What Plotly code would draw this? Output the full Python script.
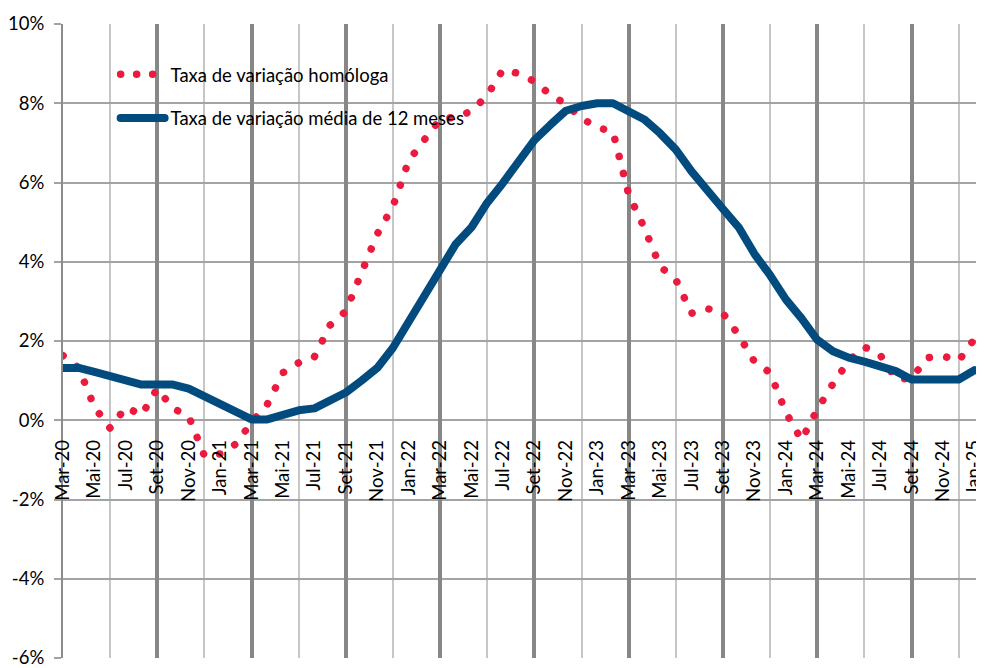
import plotly.graph_objects as go

months = [
    "Mar-20", "Abr-20", "Mai-20", "Jun-20", "Jul-20", "Ago-20", "Set-20", "Out-20", "Nov-20", "Dez-20",
    "Jan-21", "Fev-21", "Mar-21", "Abr-21", "Mai-21", "Jun-21", "Jul-21", "Ago-21", "Set-21", "Out-21", "Nov-21", "Dez-21",
    "Jan-22", "Fev-22", "Mar-22", "Abr-22", "Mai-22", "Jun-22", "Jul-22", "Ago-22", "Set-22", "Out-22", "Nov-22", "Dez-22",
    "Jan-23", "Fev-23", "Mar-23", "Abr-23", "Mai-23", "Jun-23", "Jul-23", "Ago-23", "Set-23", "Out-23", "Nov-23", "Dez-23",
    "Jan-24", "Fev-24", "Mar-24", "Abr-24", "Mai-24", "Jun-24", "Jul-24", "Ago-24", "Set-24", "Out-24", "Nov-24", "Dez-24",
    "Jan-25",
]

homologa = [
    1.63, 1.32, 0.33, -0.20, 0.33, 0.13, 0.80, 0.30, 0.10, -0.90,
    -0.85, -0.60, -0.05, 0.40, 1.20, 1.45, 1.60, 2.40, 2.75, 3.75, 4.70, 5.40,
    6.55, 7.08, 7.60, 7.65, 7.80, 8.20, 8.85, 8.75, 8.55, 8.22, 7.98, 7.62,
    7.39, 7.28, 5.70, 4.85, 3.88, 3.55, 2.70, 2.82, 2.70, 2.15, 1.48, 1.20,
    0.20, -0.50, 0.27, 0.92, 1.50, 1.85, 1.65, 1.05, 1.05, 1.58, 1.62, 1.50,
    2.05,
]

media12 = [
    1.32, 1.32, 1.22, 1.12, 1.00, 0.90, 0.90, 0.90, 0.80, 0.60,
    0.40, 0.20, 0.02, 0.02, 0.15, 0.25, 0.30, 0.50, 0.70, 1.00, 1.32, 1.83,
    2.49, 3.12, 3.87, 4.45, 4.87, 5.49, 5.99, 6.53, 7.07, 7.45, 7.81, 7.93,
    8.00, 8.00, 7.80, 7.59, 7.24, 6.83, 6.28, 5.78, 5.33, 4.87, 4.20, 3.66,
    3.05, 2.57, 2.03, 1.74, 1.58, 1.48, 1.37, 1.24, 1.03, 1.03, 1.03, 1.03,
    1.26,
]

y_ticks = [-6, -4, -2, 0, 2, 4, 6, 8, 10]
y_ticktext = [f"{v}%" for v in y_ticks]

name_homologa = "Taxa de variação homóloga"
name_media = "Taxa de variação média de 12 meses"

RED = "#EB1B3F"
BLUE = "#024B7F"
FONT = "Lato"

idx = list(range(len(months)))
label_idx = idx[::2]
label_txt = months[::2]
thin_idx = [i for i, m in zip(idx, months) if m[:3] in ("Jun", "Dez")]
thick_idx = [i for i, m in zip(idx, months) if m[:3] in ("Mar", "Set") and i > 0]
x_range = [0, 58.23]

fig = go.Figure()
fig.add_trace(go.Scatter(
    x=idx, y=homologa, mode="lines", name=name_homologa,
    line=dict(color=RED, width=7.5, dash="0.1px,17.5px"),
    legend="legend", hoverinfo="skip", xaxis="x", yaxis="y",
))
fig.add_trace(go.Scatter(
    x=idx, y=media12, mode="lines", name=name_media,
    line=dict(color=BLUE, width=8),
    legend="legend2", hoverinfo="skip", xaxis="x2", yaxis="y",
))

legend_font = dict(family=FONT, size=18.5, color="black")
legend_x = (114 - 62) / 922

# the page body has an 8px margin: the figure is drawn 8px in from the window's left/top
fig.update_layout(
    width=976, height=660,
    margin=dict(l=54, r=0, t=16, b=7),
    paper_bgcolor="white", plot_bgcolor="white",
    font=dict(family=FONT, size=18, color="black"),
    showlegend=True,
    xaxis=dict(
        range=x_range, tickmode="array", tickvals=label_idx, ticktext=label_txt,
        tickangle=-90, showgrid=False, zeroline=False, showline=False,
        anchor="free", position=0.375, ticks="", ticklabelstandoff=15,
        ticklabeloverflow="allow",
        tickfont=dict(family=FONT, size=18.5, color="black"),
        minor=dict(tickmode="array", tickvals=thin_idx, showgrid=True,
                   gridcolor="#C6C6C6", gridwidth=2, ticks=""),
    ),
    xaxis2=dict(
        range=x_range, overlaying="x", anchor="y", tickmode="array", tickvals=thick_idx,
        showticklabels=False, showgrid=True, gridcolor="#878787", gridwidth=4,
        zeroline=False, showline=False, ticks="",
    ),
    yaxis=dict(
        range=[-6, 10], tickmode="array", tickvals=y_ticks, ticktext=y_ticktext,
        showgrid=True, gridcolor="#A3A3A3", gridwidth=2, zeroline=False,
        showline=True, linecolor="#8C8C8C", linewidth=2,
        ticks="outside", ticklen=7, tickwidth=2, tickcolor="#A3A3A3",
        ticklabelstandoff=6, ticklabeloverflow="allow",
        tickfont=dict(family=FONT, size=18.5, color="black"),
    ),
    legend=dict(
        x=legend_x, y=(661 - 75) / 637, xanchor="left", yanchor="middle",
        bgcolor="rgba(0,0,0,0)", font=legend_font, itemwidth=46,
    ),
    legend2=dict(
        x=legend_x, y=(661 - 119) / 637, xanchor="left", yanchor="middle",
        bgcolor="rgba(0,0,0,0)", font=legend_font, itemwidth=46,
    ),
)

post = (
    "var gd=document.getElementById('{plot_id}');"
    "gd.querySelectorAll('path.js-line').forEach(function(p){"
    "p.style.strokeLinecap='round';p.style.strokeLinejoin='round';});"
    "gd.querySelectorAll('.legendlines path.js-line').forEach(function(p){"
    "if(p.style.strokeDasharray){p.setAttribute('d','M6,0h32.1');p.style.strokeDasharray='0.1px,15.9px';}"
    "else{p.setAttribute('d','M6,0h44');}});"
)

fig.write_html("out.html", config={"displayModeBar": False}, post_script=post)
